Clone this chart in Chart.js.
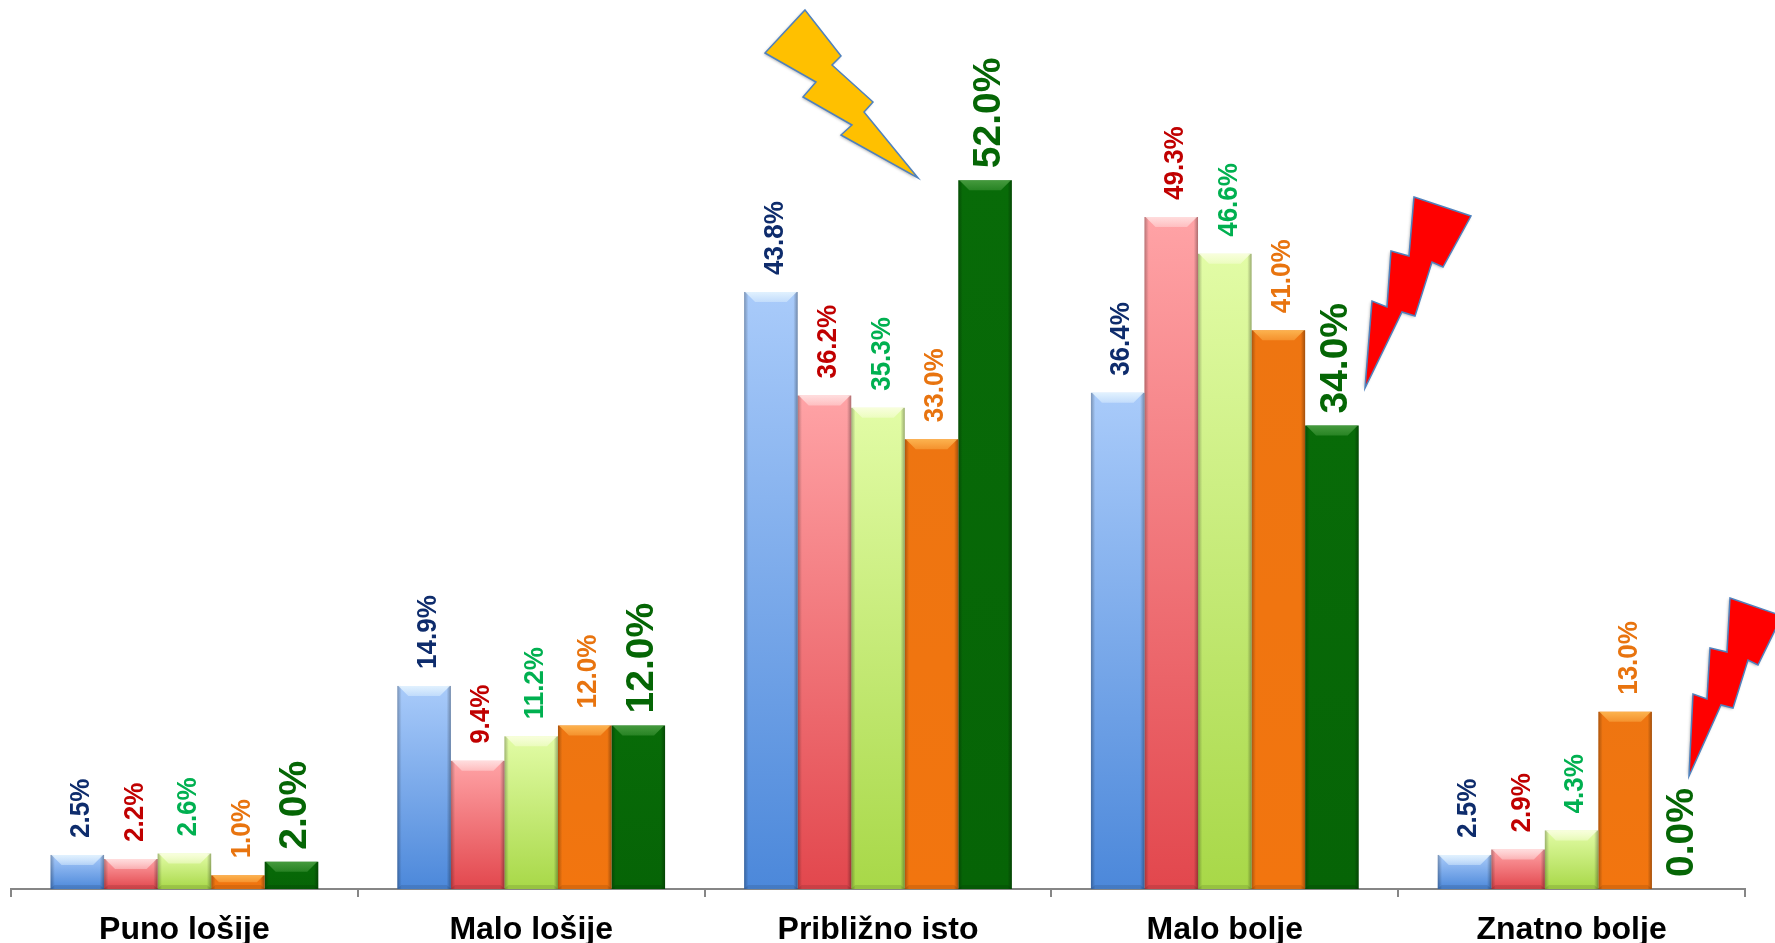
<!DOCTYPE html>
<html>
<head>
<meta charset="utf-8">
<style>
body { margin: 0; background: #fff; }
canvas { display: block; }
</style>
<script src="https://cdn.jsdelivr.net/npm/chart.js@4"></script>
</head>
<body>
<canvas id="myChart" width="1775" height="943"></canvas>
<script>
var categories = ['Puno lošije', 'Malo lošije', 'Približno isto', 'Malo bolje', 'Znatno bolje'];
var seriesNames = ['Serija 1', 'Serija 2', 'Serija 3', 'Serija 4', 'Serija 5'];
var serie1 = [2.5, 14.9, 43.8, 36.4, 2.5];
var serie2 = [2.2, 9.4, 36.2, 49.3, 2.9];
var serie3 = [2.6, 11.2, 35.3, 46.6, 4.3];
var serie4 = [1.0, 12.0, 33.0, 41.0, 13.0];
var serie5 = [2.0, 12.0, 52.0, 34.0, 0.0];

// top colour, bottom colour, label colour, label size, bevel highlight
var styles = [
    { top: '#a9cbfa', bottom: '#4c88da', label: '#0e2c6c', size: 26, shine: 'rgba(235,248,255,0.85)' },
    { top: '#ffa3a6', bottom: '#e2474d', label: '#c00000', size: 26, shine: 'rgba(255,235,235,0.8)' },
    { top: '#e2fca6', bottom: '#a8d848', label: '#00b050', size: 26, shine: 'rgba(252,255,230,0.85)' },
    { top: '#ee7511', bottom: '#f2750f', label: '#e8740f', size: 26, shine: 'rgba(255,190,90,0.85)' },
    { top: '#086b08', bottom: '#066406', label: '#056605', size: 39, shine: 'rgba(90,170,80,0.75)' }
];

// lightning bolts are decoration on top of the chart, page pixels
var bolts = [
    { fill: '#ffc000', pts: [[805,10],[841,56],[832,65],[873,102],[864,112],[918,178],[841,135],[852,125],[803,97],[816,82],[765,53]] },
    { fill: '#ff0000', pts: [[1414,197],[1471,216],[1443,267],[1432,262],[1415,316],[1402,312],[1365,388],[1372,301],[1387,307],[1391,251],[1409,256]] },
    { fill: '#ff0000', pts: [[1730,598],[1782,616],[1758,665],[1748,660],[1733,708],[1721,705],[1689,776],[1693,694],[1707,699],[1710,648],[1727,652]] }
];

function barFill(i) {
    return function (c) {
        var chart = c.chart;
        if (!chart.chartArea || c.parsed === undefined) return styles[i].bottom;
        var y = chart.scales.y;
        var g = chart.ctx.createLinearGradient(0, y.getPixelForValue(c.parsed.y), 0, y.getPixelForValue(0));
        g.addColorStop(0, styles[i].top);
        g.addColorStop(1, styles[i].bottom);
        return g;
    };
}

var bevelPlugin = {
    id: 'bevel',
    afterDatasetsDraw: function (chart) {
        var ctx = chart.ctx;
        chart.data.datasets.forEach(function (ds, i) {
            chart.getDatasetMeta(i).data.forEach(function (bar, j) {
                if (ds.data[j] === 0) return;
                var l = bar.x - bar.width / 2, r = bar.x + bar.width / 2, t = bar.y, b = bar.base;
                var d = Math.min(10, (b - t) / 2);
                ctx.save();
                // side shading
                var side = ctx.createLinearGradient(l, 0, r, 0);
                side.addColorStop(0, 'rgba(0,0,0,0.28)');
                side.addColorStop(0.08, 'rgba(0,0,0,0)');
                side.addColorStop(0.92, 'rgba(0,0,0,0)');
                side.addColorStop(1, 'rgba(0,0,0,0.32)');
                ctx.fillStyle = side;
                ctx.fillRect(l, t, r - l, b - t);
                // top bevel, soft towards the face of the bar
                var shine = ctx.createLinearGradient(0, t, 0, t + d + 1);
                shine.addColorStop(0, styles[i].shine);
                shine.addColorStop(1, styles[i].shine.replace(/[\d.]+\)$/, '0.35)'));
                ctx.fillStyle = shine;
                ctx.beginPath();
                ctx.moveTo(l + 1, t);
                ctx.lineTo(r - 1, t);
                ctx.lineTo(r - 1 - d, t + d);
                ctx.lineTo(l + 1 + d, t + d);
                ctx.closePath();
                ctx.fill();
                // bottom bevel
                var e = Math.min(4, d);
                ctx.fillStyle = 'rgba(0,0,0,0.1)';
                ctx.beginPath();
                ctx.moveTo(l, b);
                ctx.lineTo(r, b);
                ctx.lineTo(r - e, b - e);
                ctx.lineTo(l + e, b - e);
                ctx.closePath();
                ctx.fill();
                ctx.restore();
            });
        });
    }
};

var labelPlugin = {
    id: 'barLabels',
    afterDatasetsDraw: function (chart) {
        var ctx = chart.ctx;
        chart.data.datasets.forEach(function (ds, i) {
            var st = styles[i];
            var big = st.size > 30;
            chart.getDatasetMeta(i).data.forEach(function (bar, j) {
                ctx.save();
                ctx.translate(bar.x + 4, bar.y - (big ? 12 : 17));
                ctx.rotate(-Math.PI / 2);
                // small labels are a little stretched in the reference
                if (!big) ctx.scale(1, 1.08);
                ctx.font = 'bold ' + st.size + 'px "Liberation Sans"';
                ctx.fillStyle = st.label;
                ctx.textAlign = 'left';
                ctx.textBaseline = 'middle';
                ctx.fillText(ds.data[j].toFixed(1) + '%', 0, 0);
                ctx.restore();
            });
        });
    }
};

var boltPlugin = {
    id: 'bolts',
    afterDraw: function (chart) {
        var ctx = chart.ctx;
        bolts.forEach(function (bolt) {
            ctx.save();
            ctx.beginPath();
            bolt.pts.forEach(function (p, k) {
                if (k === 0) ctx.moveTo(p[0], p[1]);
                else ctx.lineTo(p[0], p[1]);
            });
            ctx.closePath();
            ctx.shadowColor = 'rgba(0,0,0,0.35)';
            ctx.shadowBlur = 3;
            ctx.shadowOffsetX = -1;
            ctx.shadowOffsetY = 1;
            ctx.fillStyle = bolt.fill;
            ctx.fill();
            ctx.shadowColor = 'transparent';
            ctx.strokeStyle = '#4f81bd';
            ctx.lineWidth = 1.5;
            ctx.lineJoin = 'miter';
            ctx.stroke();
            ctx.restore();
        });
    }
};

var allSeries = [serie1, serie2, serie3, serie4, serie5];

var myChart = new Chart(document.getElementById('myChart').getContext('2d'), {
    type: 'bar',
    data: {
        labels: categories,
        datasets: allSeries.map(function (values, i) {
            return {
                label: seriesNames[i],
                data: values,
                backgroundColor: barFill(i),
                barPercentage: 1,
                categoryPercentage: 0.772
            };
        })
    },
    options: {
        responsive: false,
        animation: false,
        layout: { padding: { left: 11, right: 30, top: 3, bottom: 0 } },
        plugins: {
            legend: { display: false },
            title: { display: false },
            tooltip: { enabled: false }
        },
        scales: {
            y: { display: false, min: 0, max: 65 },
            x: {
                afterFit: function (scale) { scale.height = 54; },
                border: { color: '#868686', width: 2 },
                grid: { drawOnChartArea: false, color: '#868686', lineWidth: 2, tickLength: 8 },
                ticks: {
                    autoSkip: false,
                    maxRotation: 0,
                    padding: 14,
                    color: '#000',
                    font: { family: '"Liberation Sans"', weight: 'bold', size: 32 }
                }
            }
        }
    },
    plugins: [bevelPlugin, labelPlugin, boltPlugin]
});
</script>
</body>
</html>
